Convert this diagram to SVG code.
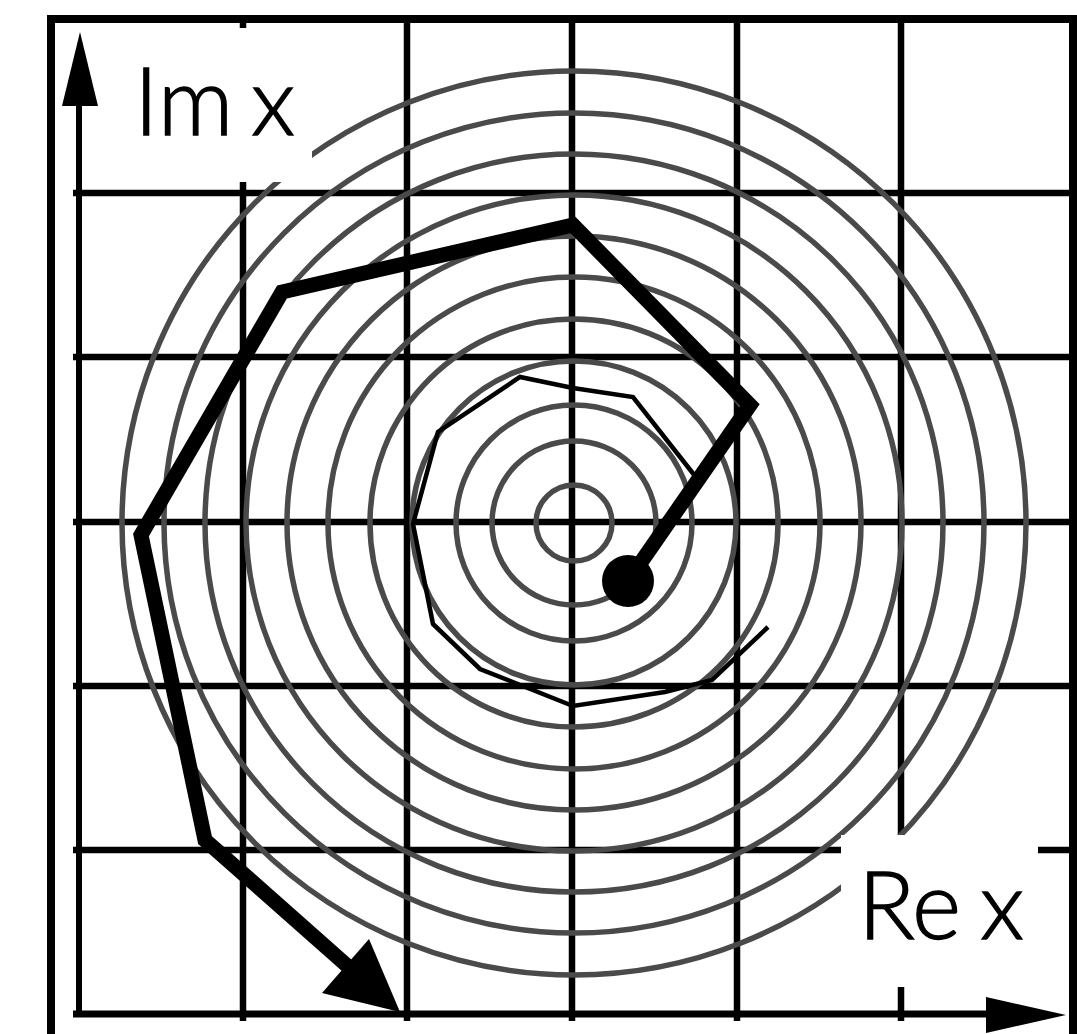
<svg xmlns="http://www.w3.org/2000/svg" width="1077" height="1034" viewBox="0 0 1077 1034">
  <style>
    .grid { stroke: #000; stroke-width: 6.5; fill: none; }
    .ring { stroke: #4a4a4a; stroke-width: 5.5; fill: none; }
    .thick { stroke: #000; stroke-width: 15; fill: none; stroke-linejoin: miter; stroke-miterlimit: 3; }
    .thin { stroke: #000; stroke-width: 4.5; fill: none; stroke-linejoin: miter; }
    .label { font-family: "Lato", "Liberation Sans", sans-serif; font-weight: 300; font-size: 94px; fill: #000; stroke: #000; stroke-width: 1.3; }
    .box { fill: #fff; }
  </style>
  <rect width="1077" height="1034" fill="#fff"/>
  <g id="grid" class="grid">
    <line x1="243" y1="19" x2="243" y2="1021"/>
    <line x1="407" y1="19" x2="407" y2="1021"/>
    <line x1="572" y1="19" x2="572" y2="1021"/>
    <line x1="737" y1="19" x2="737" y2="1021"/>
    <line x1="901" y1="19" x2="901" y2="1021"/>
    <line x1="73" y1="193" x2="1073" y2="193"/>
    <line x1="73" y1="357" x2="1073" y2="357"/>
    <line x1="73" y1="522" x2="1073" y2="522"/>
    <line x1="73" y1="686" x2="1073" y2="686"/>
    <line x1="73" y1="850" x2="1073" y2="850"/>
  </g>
  <g id="circles" class="ring">
    <circle cx="574" cy="523" r="38"/>
    <circle cx="574" cy="523" r="82"/>
    <circle cx="574" cy="523" r="118"/>
    <circle cx="574" cy="523" r="162"/>
    <circle cx="574" cy="523" r="204"/>
    <circle cx="574" cy="523" r="246"/>
    <circle cx="574" cy="523" r="287"/>
    <circle cx="574" cy="523" r="328"/>
    <circle cx="574" cy="523" r="369"/>
    <circle cx="574" cy="523" r="410"/>
    <circle cx="574" cy="523" r="452"/>
  </g>
  <g id="connectors">
    <path id="inner-spiral" class="thin" d="M768,627 L712,680 L665,692 L573,706 L480,669 L433,624 L413,524 L438,432 L520,377 L573,388 L633,397 L695,476"/>
    <path id="outer-spiral" class="thick" d="M628,581 L750,405 L573,225 L282,292 L141,535 L205,840 L352,970"/>
    <polygon points="400,1012 322,993 369,939" fill="#000"/>
  </g>
  <g id="start-point">
    <circle cx="628" cy="581" r="26" fill="#000"/>
  </g>
  <g id="label-im">
    <rect class="box" x="100" y="28" width="212" height="154"/>
  </g>
  <g id="label-re">
    <rect class="box" x="841" y="835" width="197" height="152"/>
  </g>
  <g id="axes">
    <line x1="79" y1="100" x2="79" y2="1014" stroke="#000" stroke-width="6"/>
    <polygon points="80,32 62,106 98,106" fill="#000"/>
    <line x1="73" y1="1014" x2="990" y2="1014" stroke="#000" stroke-width="7"/>
    <polygon points="1066,1015 986,997 986,1033" fill="#000"/>
  </g>
  <g id="frame">
    <path d="M51,1034 V19 H1073 V1034" fill="none" stroke="#000" stroke-width="8"/>
  </g>
  <g id="texts">
    <text class="label" x="134" y="135">Im<tspan x="251">x</tspan></text>
    <text class="label" x="858" y="939">Re<tspan x="980">x</tspan></text>
  </g>
</svg>
